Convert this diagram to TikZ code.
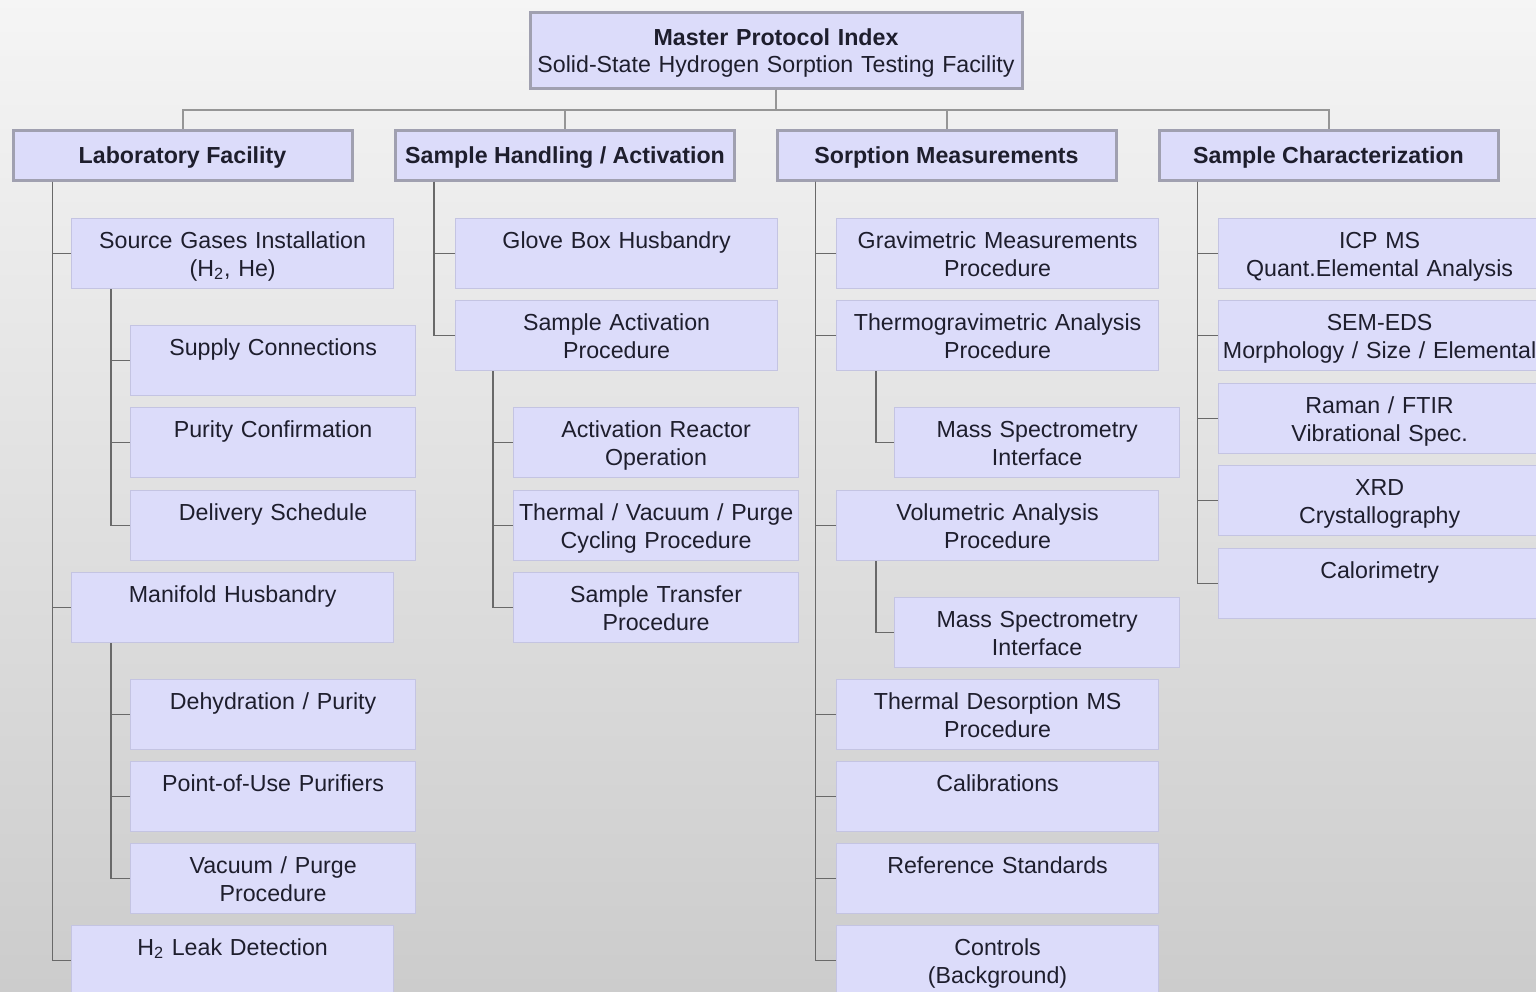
\documentclass[tikz,border=0pt]{standalone}
\usepackage{fontspec}
\setmainfont{Liberation Sans}
\usetikzlibrary{positioning, calc}
\definecolor{boxfill}{RGB}{220,220,250}
\definecolor{boxline}{RGB}{196,196,226}
\definecolor{hdrline}{RGB}{160,160,176}
\definecolor{linkgray}{RGB}{105,105,105}
\definecolor{inkblue}{RGB}{30,30,45}

\begin{document}
\begin{tikzpicture}[x=0.5pt, y=-0.5pt,
  every node/.style={text=inkblue, font=\fontsize{11.6}{14}\selectfont},
  root/.style={draw=hdrline, line width=1.5pt, fill=boxfill, text width=246pt, inner sep=0pt, align=center, text height=16.75pt, text depth=21.25pt, font=\fontsize{11.6}{13.5}\selectfont},
  hdr/.style={draw=hdrline, line width=1.5pt, fill=boxfill, minimum width=169.5pt, inner sep=0pt, text height=16.75pt, text depth=8.25pt, font=\fontsize{11.6}{14}\selectfont\bfseries},
  item/.style={draw=boxline, line width=0.6pt, fill=boxfill, anchor=north west, inner sep=0pt, text width=161pt, align=center, text height=14.75pt, text depth=20.25pt},
  subitem/.style={item, text width=142.5pt},
  link/.style={draw=linkgray, line width=0.75pt},
  bus/.style={draw=linkgray!70, line width=1pt}]
% background
\shade[top color=white!96!black, bottom color=black!20] (0,0) rectangle (1536,991);
\clip (0,0) rectangle (1536,991);

% top of the tree
\node[root] (idx) at (776,50) {{\bfseries Master Protocol Index}\\Solid-State Hydrogen Sorption Testing Facility};
\node[hdr] (lab) at (182.5,155) {Laboratory Facility};
\node[hdr] (hand) at (565,155) {Sample Handling / Activation};
\node[hdr] (sorp) at (946.5,155) {Sorption Measurements};
\node[hdr] (char) at (1328.5,155) {Sample Characterization};
\draw[bus] (idx.south) -- ++(0,20) -| (lab.north);
\draw[bus] (idx.south) -- ++(0,20) -| (hand.north);
\draw[bus] (idx.south) -- ++(0,20) -| (sorp.north);
\draw[bus] (idx.south) -- ++(0,20) -| (char.north);

% laboratory facility
\node[item] (src) at (71,218) {Source Gases Installation\\(H\textsubscript{2}, He)};
\node[subitem] (supp) at (130,325) {Supply Connections};
\node[subitem] (pur) at (130,407) {Purity Confirmation};
\node[subitem] (deliv) at (130,490) {Delivery Schedule};
\node[item] (mani) at (71,572) {Manifold Husbandry};
\node[subitem] (dehyd) at (130,679) {Dehydration / Purity};
\node[subitem] (pou) at (130,761) {Point-of-Use Purifiers};
\node[subitem] (vac) at (130,843) {Vacuum / Purge\\Procedure};
\node[item] (leak) at (71,925) {H\textsubscript{2} Leak Detection};
\draw[link] ([xshift=20.5pt]lab.south west) |- (src.west);
\draw[link] ([xshift=20.5pt]lab.south west) |- (mani.west);
\draw[link] ([xshift=20.5pt]lab.south west) |- (leak.west);
\draw[link] ([xshift=20pt]src.south west) |- (supp.west);
\draw[link] ([xshift=20pt]src.south west) |- (pur.west);
\draw[link] ([xshift=20pt]src.south west) |- (deliv.west);
\draw[link] ([xshift=20pt]mani.south west) |- (dehyd.west);
\draw[link] ([xshift=20pt]mani.south west) |- (pou.west);
\draw[link] ([xshift=20pt]mani.south west) |- (vac.west);

% sample handling
\node[item] (glove) at (455,218) {Glove Box Husbandry};
\node[item] (act) at (455,300) {Sample Activation\\Procedure};
\node[subitem] (reac) at (513,407) {Activation Reactor\\Operation};
\node[subitem] (cyc) at (513,490) {Thermal / Vacuum / Purge\\Cycling Procedure};
\node[subitem] (trans) at (513,572) {Sample Transfer\\Procedure};
\draw[link] ([xshift=20pt]hand.south west) |- (glove.west);
\draw[link] ([xshift=20pt]hand.south west) |- (act.west);
\draw[link] ([xshift=19pt]act.south west) |- (reac.west);
\draw[link] ([xshift=19pt]act.south west) |- (cyc.west);
\draw[link] ([xshift=19pt]act.south west) |- (trans.west);

% sorption measurements
\node[item] (grav) at (836,218) {Gravimetric Measurements\\Procedure};
\node[item] (tga) at (836,300) {Thermogravimetric Analysis\\Procedure};
\node[subitem] (tgams) at (894,407) {Mass Spectrometry\\Interface};
\node[item] (vol) at (836,490) {Volumetric Analysis\\Procedure};
\node[subitem] (volms) at (894,597) {Mass Spectrometry\\Interface};
\node[item] (tds) at (836,679) {Thermal Desorption MS\\Procedure};
\node[item] (calib) at (836,761) {Calibrations};
\node[item] (refstd) at (836,843) {Reference Standards};
\node[item] (ctrl) at (836,925) {Controls\\(Background)};
\draw[link] ([xshift=20pt]sorp.south west) |- (grav.west);
\draw[link] ([xshift=20pt]sorp.south west) |- (tga.west);
\draw[link] ([xshift=20pt]sorp.south west) |- (vol.west);
\draw[link] ([xshift=20pt]sorp.south west) |- (tds.west);
\draw[link] ([xshift=20pt]sorp.south west) |- (calib.west);
\draw[link] ([xshift=20pt]sorp.south west) |- (refstd.west);
\draw[link] ([xshift=20pt]sorp.south west) |- (ctrl.west);
\draw[link] ([xshift=20pt]tga.south west) |- (tgams.west);
\draw[link] ([xshift=20pt]vol.south west) |- (volms.west);

% sample characterization
\node[item] (icp) at (1218,218) {ICP MS\\Quant.Elemental Analysis};
\node[item] (sem) at (1218,300) {SEM-EDS\\Morphology / Size / Elemental};
\node[item] (raman) at (1218,383) {Raman / FTIR\\Vibrational Spec.};
\node[item] (xrd) at (1218,465) {XRD\\Crystallography};
\node[item] (calo) at (1218,548) {Calorimetry};
\draw[link] ([xshift=20pt]char.south west) |- (icp.west);
\draw[link] ([xshift=20pt]char.south west) |- (sem.west);
\draw[link] ([xshift=20pt]char.south west) |- (raman.west);
\draw[link] ([xshift=20pt]char.south west) |- (xrd.west);
\draw[link] ([xshift=20pt]char.south west) |- (calo.west);
\end{tikzpicture}
\end{document}
